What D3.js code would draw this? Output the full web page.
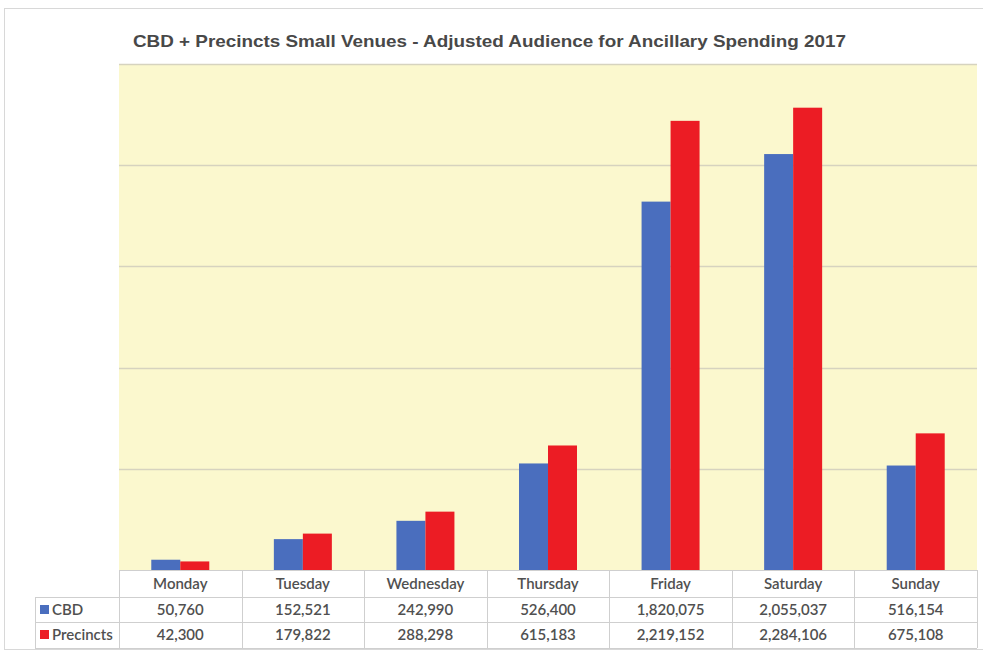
<!DOCTYPE html>
<html>
<head>
<meta charset="utf-8">
<script src="https://cdn.jsdelivr.net/npm/d3@7"></script>
<style>
body { margin: 0; background: #fff; }
</style>
</head>
<body>
<svg></svg>
<script>
var days = ["Monday", "Tuesday", "Wednesday", "Thursday", "Friday", "Saturday", "Sunday"];
var cbd = [50760, 152521, 242990, 526400, 1820075, 2055037, 516154];
var precincts = [42300, 179822, 288298, 615183, 2219152, 2284106, 675108];
var seriesNames = ["CBD", "Precincts"];
var yTicks = [0, 500000, 1000000, 1500000, 2000000, 2500000];

var svgWidth = 983, svgHeight = 651;
var plotLeft = 119, plotRight = 977, plotTop = 64, plotBottom = 570;
var rowH = [27, 25, 26];
var colors = ["#4A6EBE", "#EC1C24"];

var svg = d3.select("svg")
            .attr("width", svgWidth)
            .attr("height", svgHeight);

// outer frame
svg.append("rect")
   .attr("x", 4.5).attr("y", 8.5)
   .attr("width", 990).attr("height", 641)
   .attr("fill", "none")
   .attr("stroke", "#d8d8d8");

var x = d3.scaleBand().domain(days).range([plotLeft, plotRight]);
var y = d3.scaleLinear().domain([0, 2500000]).range([plotBottom, plotTop]);

// plot background
svg.append("rect")
   .attr("x", plotLeft).attr("y", plotTop)
   .attr("width", plotRight - plotLeft).attr("height", plotBottom - plotTop)
   .attr("fill", "#FBF8CE");

// gridlines
svg.selectAll(".grid")
   .data(yTicks.slice(1))
   .enter()
   .append("line")
   .attr("x1", plotLeft).attr("x2", plotRight)
   .attr("y1", function(d) {return Math.round(y(d)) + 0.5;})
   .attr("y2", function(d) {return Math.round(y(d)) + 0.5;})
   .attr("stroke", "#d6d3bf")
   .attr("stroke-width", 1.5);

// bars
var barW = 29;
var data = [cbd, precincts];
data.forEach(function(vals, s) {
  svg.selectAll(".bar" + s)
     .data(vals)
     .enter()
     .append("rect")
     .attr("x", function(d, i) {return x(days[i]) + x.bandwidth() / 2 - barW + s * barW;})
     .attr("y", function(d) {return y(d);})
     .attr("width", barW)
     .attr("height", function(d) {return plotBottom - y(d);})
     .attr("fill", colors[s]);
});

// title
svg.append("text")
   .attr("x", 133).attr("y", 47)
   .attr("font-family", "Liberation Sans, Arial, sans-serif")
   .attr("font-size", 17)
   .attr("font-weight", "bold")
   .attr("fill", "#484848")
   .attr("textLength", 713)
   .attr("lengthAdjust", "spacingAndGlyphs")
   .text("CBD + Precincts Small Venues - Adjusted Audience for Ancillary Spending 2017");

// data table
var tableLeft = 35;
var y0 = plotBottom, y1 = plotBottom + rowH[0], y2 = y1 + rowH[1], y3 = y2 + rowH[2];
var tbl = svg.append("g").attr("stroke", "#cfcfcf").attr("stroke-width", 1);
// horizontal lines
tbl.append("line").attr("x1", plotLeft).attr("x2", plotRight).attr("y1", y0 + 0.5).attr("y2", y0 + 0.5);
[y1, y2, y3].forEach(function(yy) {
  tbl.append("line").attr("x1", tableLeft).attr("x2", plotRight).attr("y1", yy + 0.5).attr("y2", yy + 0.5);
});
// vertical lines
tbl.append("line").attr("x1", tableLeft + 0.5).attr("x2", tableLeft + 0.5).attr("y1", y1).attr("y2", y3);
days.concat(["end"]).forEach(function(d, i) {
  var xx = i < days.length ? x(d) : plotRight;
  tbl.append("line").attr("x1", Math.round(xx) + 0.5).attr("x2", Math.round(xx) + 0.5).attr("y1", y0).attr("y2", y3);
});

var fmt = d3.format(",");
var font = "Lato, 'Open Sans', sans-serif";
var textCol = "#505050";

svg.selectAll(".dayLabel")
   .data(days)
   .enter()
   .append("text")
   .attr("x", function(d) {return x(d) + x.bandwidth() / 2;})
   .attr("y", y0 + 19)
   .attr("text-anchor", "middle")
   .attr("font-family", font)
   .attr("font-size", 15)
   .attr("font-weight", 600)
   .attr("fill", textCol)
   .text(function(d) {return d;});

var rowTops = [y1, y2];
data.forEach(function(vals, s) {
  svg.selectAll(".val" + s)
     .data(vals)
     .enter()
     .append("text")
     .attr("x", function(d, i) {return x(days[i]) + x.bandwidth() / 2;})
     .attr("y", rowTops[s] + 18)
     .attr("text-anchor", "middle")
     .attr("font-family", font)
     .attr("font-size", 15)
     .attr("font-weight", 600)
     .attr("fill", textCol)
     .text(function(d) {return fmt(d);});

  svg.append("rect")
     .attr("x", 40).attr("y", rowTops[s] + 8)
     .attr("width", 9).attr("height", 9)
     .attr("fill", colors[s]);

  svg.append("text")
     .attr("x", 52).attr("y", rowTops[s] + 18)
     .attr("font-family", font)
     .attr("font-size", 15)
     .attr("font-weight", 600)
     .attr("fill", textCol)
     .text(seriesNames[s]);
});
</script>
</body>
</html>
